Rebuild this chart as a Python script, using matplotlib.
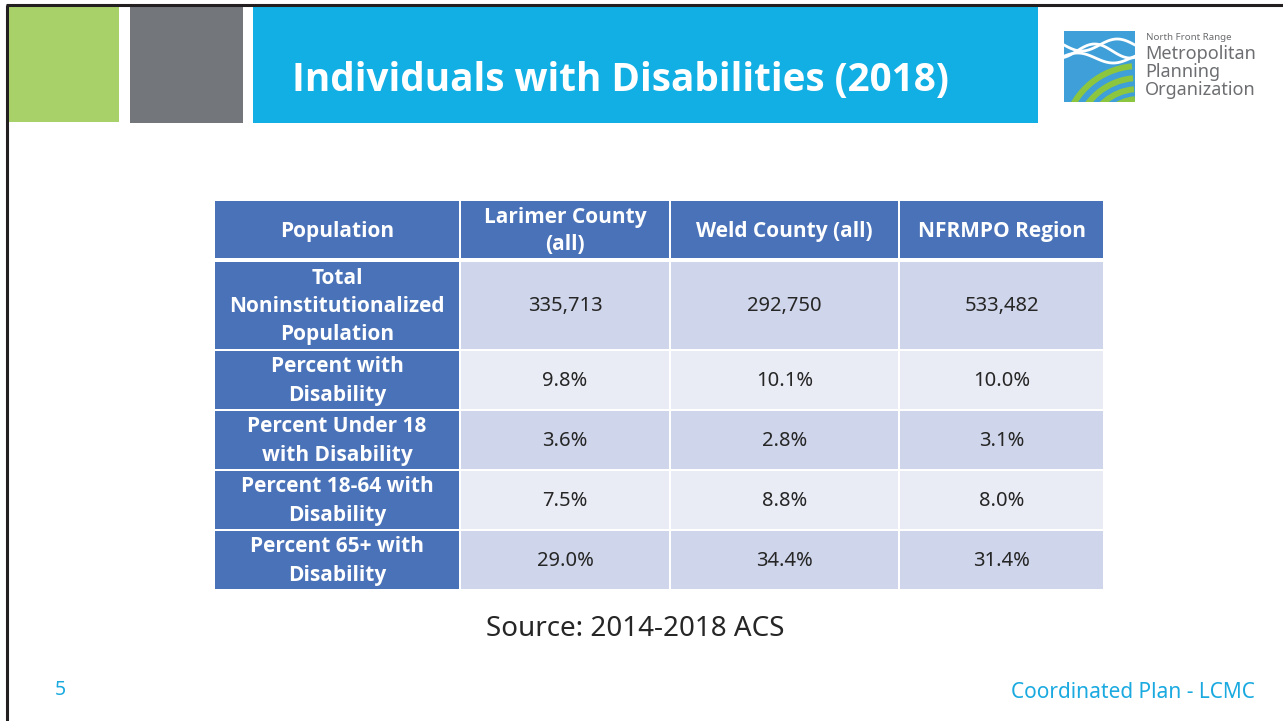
import numpy as np
import matplotlib.pyplot as plt
from matplotlib.patches import Rectangle, Wedge

# table content
col_headers = ["Population", "Larimer County\n(all)", "Weld County (all)", "NFRMPO Region"]
row_labels = ["Total\nNoninstitutionalized\nPopulation",
              "Percent with\nDisability",
              "Percent Under 18\nwith Disability",
              "Percent 18-64 with\nDisability",
              "Percent 65+ with\nDisability"]
larimer = ["335,713", "9.8%", "3.6%", "7.5%", "29.0%"]
weld = ["292,750", "10.1%", "2.8%", "8.8%", "34.4%"]
nfrmpo = ["533,482", "10.0%", "3.1%", "8.0%", "31.4%"]

title = "Individuals with Disabilities (2018)"
source = "Source: 2014-2018 ACS"
footer = "Coordinated Plan - LCMC"
page = "5"

W, H = 1283, 721
fig = plt.figure(figsize=(W / 100, H / 100), dpi=100)
ax = fig.add_axes([0, 0, 1, 1])
ax.set_xlim(0, W)
ax.set_ylim(H, 0)
ax.axis("off")

# slide frame
ax.plot([7, 7], [H, 5], color="#231f20", lw=2.2, solid_capstyle="butt")
ax.plot([6, W], [5, 5], color="#231f20", lw=2.2, solid_capstyle="butt")

# header blocks
ax.add_patch(Rectangle((8, 7), 111, 115, color="#a8d16a", lw=0))
ax.add_patch(Rectangle((130, 7), 113, 116, color="#73767a", lw=0))
ax.add_patch(Rectangle((253, 7), 785, 116, color="#12afe4", lw=0))
ax.text(620, 80, title, color="white", fontsize=27.8, fontweight="bold",
        family="Open Sans", ha="center", va="center")

# logo
lx, ly, ls = 1064, 31, 71
box = Rectangle((lx, ly), ls, ls, color="#3f9fd8", lw=0)
ax.add_patch(box)
cx, cy = lx + ls * 1.05, ly + ls * 1.55
for r in [78, 66, 55, 45, 36]:
    w = ax.add_patch(Wedge((cx, cy), r, 195, 265, width=6, color="#8cc63f", lw=0))
    w.set_clip_path(box)
t = np.linspace(lx, lx + ls, 100)
for ph, amp, yo in [(0, 6, 14), (2.0, 7, 20), (3.5, 5, 27)]:
    ax.plot(t, ly + yo + amp * np.sin((t - lx) / ls * 2 * np.pi + ph), color="white", lw=2)
ax.text(1146, 37, "North Front Range", color="#6d6e71", fontsize=7, family="Noto Sans", va="center")
for i, s in enumerate(["Metropolitan", "Planning", "Organization"]):
    ax.text(1145, 54 + i * 18, s, color="#6d6e71", fontsize=13, family="Noto Sans", va="center")

# table layout
xs = [214, 460, 670, 899, 1104]
ys = [200, 260, 350, 410, 470, 530, 590]
hdr_col = "#4a72b8"
shade = ["#cfd5ea", "#e9ebf5"]
gap = 1.0

def cell(x0, x1, y0, y1, color):
    ax.add_patch(Rectangle((x0 + gap, y0 + gap), x1 - x0 - 2 * gap, y1 - y0 - 2 * gap,
                           color=color, lw=0))

for j, h in enumerate(col_headers):
    cell(xs[j], xs[j + 1], ys[0], ys[1] - 1, hdr_col)
    ax.text((xs[j] + xs[j + 1]) / 2, (ys[0] + ys[1]) / 2 + 1, h, color="white",
            fontsize=15, fontweight="bold", family="Open Sans", ha="center", va="center",
            linespacing=1.4)

for i, lab in enumerate(row_labels):
    y0, y1 = ys[i + 1] + (1 if i == 0 else 0), ys[i + 2]
    cell(xs[0], xs[1], y0, y1, hdr_col)
    ax.text((xs[0] + xs[1]) / 2, (y0 + y1) / 2 + 1, lab, color="white", fontsize=15,
            fontweight="bold", family="Open Sans", ha="center", va="center", linespacing=1.45)
    for j, vals in enumerate([larimer, weld, nfrmpo]):
        cell(xs[j + 1], xs[j + 2], y0, y1, shade[i % 2])
        ax.text((xs[j + 1] + xs[j + 2]) / 2, (y0 + y1) / 2 + 1, vals[i], color="#262626",
                fontsize=14.5, family="Noto Sans", ha="center", va="center")

ax.text(635, 629, source, color="#262626", fontsize=20, family="Noto Sans",
        ha="center", va="center")
ax.text(60, 690, page, color="#1aaae0", fontsize=14, family="Noto Sans", ha="center", va="center")
ax.text(1255, 692, footer, color="#1aaae0", fontsize=15, family="Noto Sans", ha="right", va="center")

fig.savefig("out.png", dpi=100)
